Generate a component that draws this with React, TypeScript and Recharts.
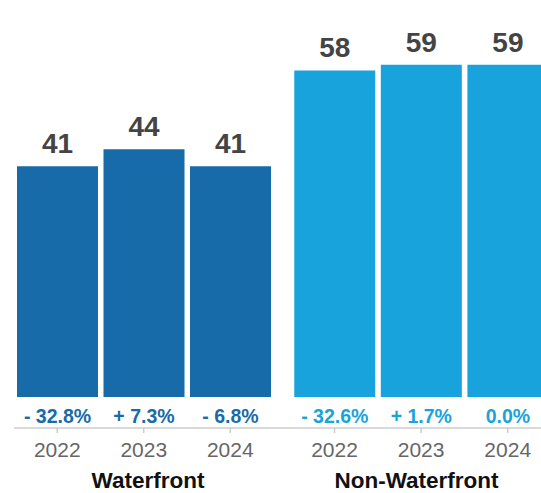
import { BarChart, Bar, XAxis, YAxis, LabelList } from 'recharts'

const years = ['2022', '2023', '2024']
const waterfrontValues = [41, 44, 41]
const waterfrontChange = ['- 32.8%', '+ 7.3%', '- 6.8%']
const nonWaterfrontValues = [58, 59, 59]
const nonWaterfrontChange = ['- 32.6%', '+ 1.7%', '0.0%']

const FONT = '"Liberation Sans", Arial, sans-serif'

interface GroupProps {
  title: string
  values: number[]
  changes: string[]
  color: string
  width: number
  left: number
  marginLeft: number
  padLeft: number
  padRight: number
}

function GroupChart({ title, values, changes, color, width, left, marginLeft, padLeft, padRight }: GroupProps) {
  const data = years.map((year, i) => ({ year, value: values[i], change: changes[i] }))

  // percent change sits just under the bar base
  const renderChange = (props: any) => {
    const { x, y, width: w, height: h, value } = props
    return (
      <text
        x={x + w / 2}
        y={y + h + 19}
        textAnchor="middle"
        dominantBaseline="central"
        fill={color}
        fontSize={19.5}
        fontWeight="bold"
        fontFamily={FONT}
      >
        {value}
      </text>
    )
  }

  return (
    <div style={{ position: 'absolute', left, top: 0 }}>
      <BarChart
        width={width}
        height={493}
        data={data}
        margin={{ top: 0, right: 0, bottom: 0, left: marginLeft }}
      >
        <XAxis
          dataKey="year"
          height={65}
          padding={{ left: padLeft, right: padRight }}
          axisLine={{ stroke: '#cccccc', strokeWidth: 1.5 }}
          tickLine={{ stroke: '#cccccc', strokeWidth: 1.5 }}
          tickSize={5}
          tickMargin={9}
          tick={{ fill: '#666666', fontSize: 21, fontFamily: FONT }}
          label={{
            value: title,
            position: 'insideBottom',
            offset: 5,
            fill: '#111111',
            fontSize: 22.5,
            fontWeight: 'bold',
            fontFamily: FONT,
          }}
        />
        <YAxis hide type="number" domain={[-5.5, 70.5]} allowDataOverflow />
        <Bar dataKey="value" fill={color} barSize={81} isAnimationActive={false}>
          <LabelList
            dataKey="value"
            position="top"
            offset={13}
            fill="#444444"
            fontSize={28}
            fontWeight="bold"
            fontFamily={FONT}
          />
          <LabelList dataKey="change" content={renderChange} />
        </Bar>
      </BarChart>
    </div>
  )
}

export default function App() {
  return (
    <div
      style={{
        position: 'absolute',
        left: 0,
        top: 0,
        width: 541,
        height: 493,
        overflow: 'hidden',
        background: '#ffffff',
      }}
    >
      <GroupChart
        title="Waterfront"
        values={waterfrontValues}
        changes={waterfrontChange}
        color="#176ba8"
        width={282}
        left={0}
        marginLeft={14}
        padLeft={0}
        padRight={8.5}
      />
      <GroupChart
        title="Non-Waterfront"
        values={nonWaterfrontValues}
        changes={nonWaterfrontChange}
        color="#19a3dc"
        width={269}
        left={282}
        marginLeft={0}
        padLeft={9.25}
        padRight={0}
      />
    </div>
  )
}
